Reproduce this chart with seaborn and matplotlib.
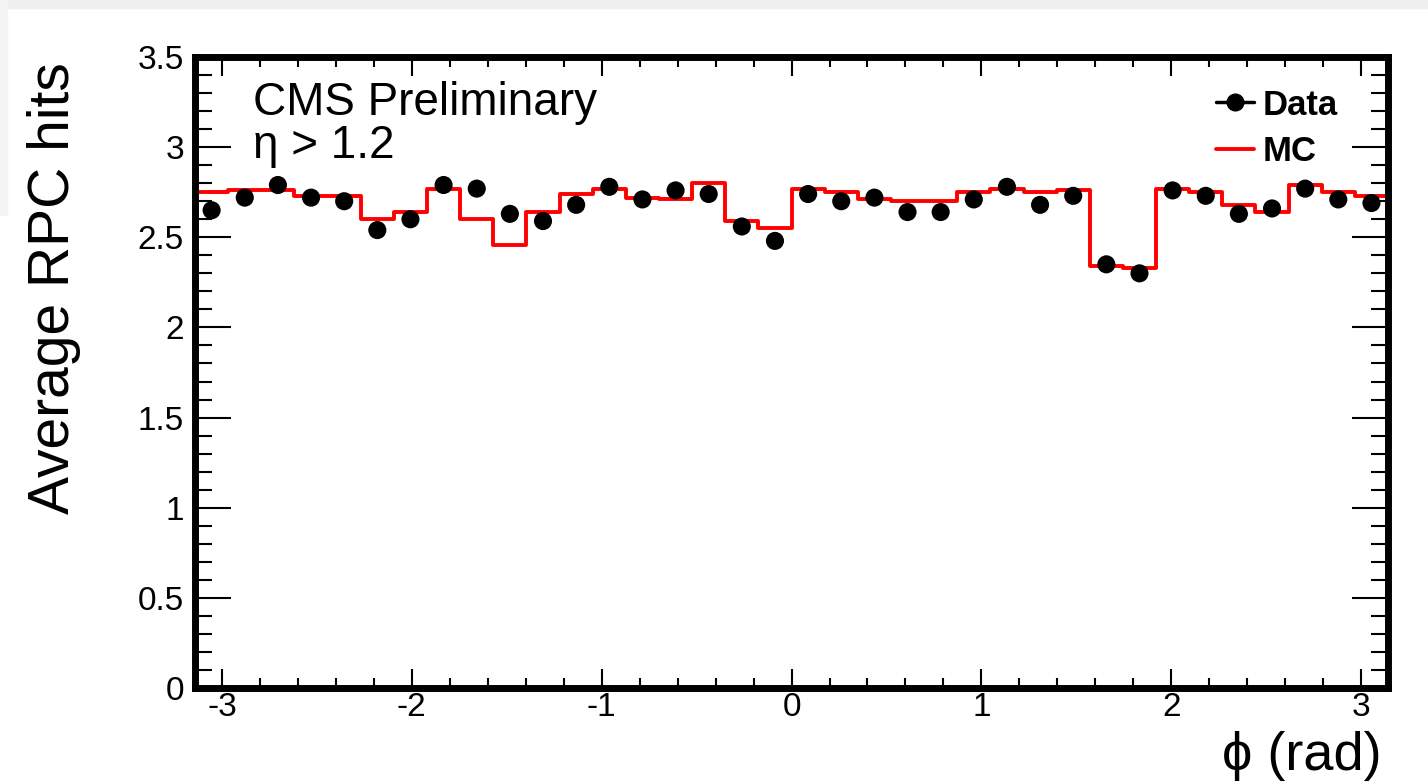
import numpy as np
import pandas as pd
import matplotlib
matplotlib.use("Agg")
import matplotlib.pyplot as plt
from matplotlib.lines import Line2D
from matplotlib.patches import Rectangle
from matplotlib.ticker import MultipleLocator
import seaborn as sns

# average RPC hits per phi bin (36 bins over -pi..pi)
data_hits = [2.65, 2.72, 2.79, 2.72, 2.70, 2.54, 2.60, 2.79, 2.77, 2.63, 2.59, 2.68,
             2.78, 2.71, 2.76, 2.74, 2.56, 2.48, 2.74, 2.70, 2.72, 2.64, 2.64, 2.71,
             2.78, 2.68, 2.73, 2.35, 2.30, 2.76, 2.73, 2.63, 2.66, 2.77, 2.71, 2.69]
mc_hits = [2.75, 2.76, 2.76, 2.73, 2.73, 2.60, 2.64, 2.77, 2.60, 2.46, 2.64, 2.74,
           2.77, 2.72, 2.71, 2.80, 2.59, 2.55, 2.77, 2.75, 2.71, 2.70, 2.70, 2.75,
           2.77, 2.75, 2.76, 2.34, 2.33, 2.77, 2.75, 2.68, 2.64, 2.79, 2.75, 2.73]
n_bins = 36
x_ticks = [-3, -2, -1, 0, 1, 2, 3]
y_ticks = [0, 0.5, 1, 1.5, 2, 2.5, 3, 3.5]
y_tick_labels = ["0", "0.5", "1", "1.5", "2", "2.5", "3", "3.5"]

edges = np.linspace(-np.pi, np.pi, n_bins + 1)
centers = 0.5 * (edges[:-1] + edges[1:])
df = pd.DataFrame({"phi": centers, "data": data_hits, "mc": mc_hits})

sns.set_style("ticks")
plt.rcParams["font.family"] = ["Liberation Sans", "DejaVu Sans"]
plt.rcParams["axes.unicode_minus"] = False
plt.rcParams["text.color"] = "black"
plt.rcParams["axes.labelcolor"] = "black"
plt.rcParams["xtick.color"] = "black"
plt.rcParams["ytick.color"] = "black"

fig = plt.figure(figsize=(14.28, 7.81), dpi=100)
ax = fig.add_axes([0.1366, 0.1191, 0.8354, 0.8079])

# screenshot frame strips
fig.patches.append(Rectangle((0, 1 - 8 / 781), 1, 8 / 781, transform=fig.transFigure,
                             color="#efefef", zorder=0))
fig.patches.append(Rectangle((0, 1 - 215 / 781), 7 / 1428, 215 / 781, transform=fig.transFigure,
                             color="#f4f4f4", zorder=0))

# MC histogram outline
sns.histplot(data=df, x="phi", weights="mc", bins=list(edges), element="step", fill=False,
             color="#ff0000", linewidth=2.8, ax=ax)
ax.vlines(edges[0], 0, mc_hits[0], color="#ff0000", linewidth=2.8)

# data points
sns.scatterplot(data=df, x="phi", y="data", color="black", s=170, edgecolor="none",
                zorder=5, ax=ax)

ax.set_xlim(-np.pi, np.pi)
ax.set_ylim(0, 3.5)
ax.set_xticks(x_ticks)
ax.set_yticks(y_ticks)
ax.set_yticklabels(y_tick_labels)
ax.xaxis.set_minor_locator(MultipleLocator(0.2))
ax.yaxis.set_minor_locator(MultipleLocator(0.1))

for s in ax.spines.values():
    s.set_visible(True)
    s.set_linewidth(5)
    s.set_color("black")

ax.tick_params(axis="both", which="both", direction="in", top=True, right=True,
               width=1.5, color="black", labelcolor="black", labelsize=24)
ax.tick_params(axis="x", which="major", length=13.5, pad=3)
ax.tick_params(axis="x", which="minor", length=7)
ax.tick_params(axis="y", which="major", length=26, pad=8)
ax.tick_params(axis="y", which="minor", length=12)

ax.set_xlabel("")
ax.set_ylabel("Average RPC hits", fontsize=41, loc="top", color="black")
ax.yaxis.set_label_coords(-0.096, 0.992)

ax.text(0.995, -0.13, "ϕ (rad)", transform=ax.transAxes, ha="right", va="baseline",
        fontsize=39, color="black")

ax.text(0.0486, 0.908, "CMS Preliminary", transform=ax.transAxes, ha="left",
        va="baseline", fontsize=33, color="black")
ax.text(0.0486, 0.840, "η > 1.2", transform=ax.transAxes, ha="left",
        va="baseline", fontsize=33, color="black")

handles = [Line2D([], [], color="black", marker="o", markersize=12, linewidth=2.5),
           Line2D([], [], color="#ff0000", linewidth=2.8)]
ax.legend(handles, ["Data", "MC"], loc="upper right", bbox_to_anchor=(0.958, 0.95),
          frameon=False, borderpad=0, borderaxespad=0, handlelength=1.1,
          handletextpad=0.25, labelspacing=0.4,
          prop={"weight": "bold", "size": 25})

fig.savefig("out.png", dpi=100, facecolor="white")
